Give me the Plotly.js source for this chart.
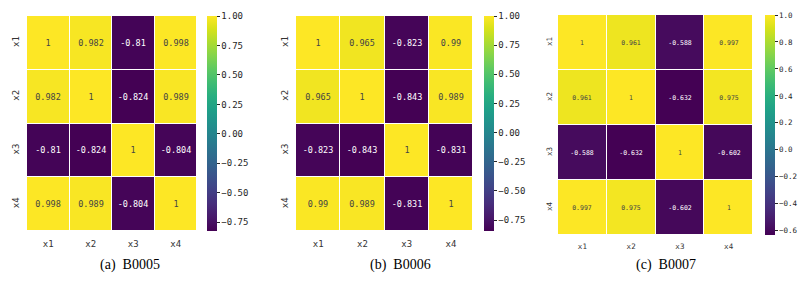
<!DOCTYPE html>
<html><head><meta charset="utf-8">
<script src="https://cdn.plot.ly/plotly-3.0.1.min.js"></script>
<style>html,body{margin:0;padding:0;background:#fff}#chart{width:807px;height:300px}</style>
</head><body><div id="chart"></div>
<script>
const labels = ['x1','x2','x3','x4'];
const captions = ['(a)  B0005','(b)  B0006','(c)  B0007'];
const zB0005 = [
  [1, 0.982, -0.81, 0.998],
  [0.982, 1, -0.824, 0.989],
  [-0.81, -0.824, 1, -0.804],
  [0.998, 0.989, -0.804, 1]
];
const zB0006 = [
  [1, 0.965, -0.823, 0.99],
  [0.965, 1, -0.843, 0.989],
  [-0.823, -0.843, 1, -0.831],
  [0.99, 0.989, -0.831, 1]
];
const zB0007 = [
  [1, 0.961, -0.588, 0.997],
  [0.961, 1, -0.632, 0.975],
  [-0.588, -0.632, 1, -0.602],
  [0.997, 0.975, -0.602, 1]
];
const W = 807, H = 300;
const panels = [
  {z: zB0005, x0: 27, x1: 197, y0: 16, y1: 231, cb: 207, dtick: 0.25, fmt: '.2f', fs: 8.5, tfs: 9, capx: 130, xs: 6, ys: 5},
  {z: zB0006, x0: 296, x1: 473, y0: 16, y1: 231, cb: 484, dtick: 0.25, fmt: '.2f', fs: 8.5, tfs: 9, capx: 400, xs: 6, ys: 5},
  {z: zB0007, x0: 558, x1: 753, y0: 15, y1: 235, cb: 765, dtick: 0.2, fmt: '.1f', fs: 6.5, tfs: 7.5, capx: 666, xs: 5, ys: 4}
];
const font = 'DejaVu Sans Mono, monospace';
const data = [], layout = {
  width: W, height: H, margin: {l:0, r:0, t:0, b:0},
  paper_bgcolor: '#fff', plot_bgcolor: '#fff', showlegend: false,
  annotations: []
};
panels.forEach((p, i) => {
  const n = i === 0 ? '' : String(i + 1);
  const flat = p.z.flat();
  const zmin = Math.min(...flat), zmax = Math.max(...flat);
  data.push({
    type: 'heatmap', z: p.z, x: labels, y: labels,
    xaxis: 'x' + n, yaxis: 'y' + n,
    colorscale: 'Viridis', zmin: zmin, zmax: zmax,
    xgap: 1, ygap: 1,
    texttemplate: '%{z:~.3g}',
    textfont: {family: font, size: p.fs},
    hoverinfo: 'skip',
    colorbar: {
      x: p.cb / W, xanchor: 'left', xpad: 0, ypad: 0,
      y: 1 - (p.y0 + p.y1) / 2 / H, yanchor: 'middle',
      len: p.y1 - p.y0, lenmode: 'pixels', thickness: 10,
      outlinewidth: 0, ticks: 'outside', ticklen: 3, tickwidth: 1, tickcolor: '#262626',
      dtick: p.dtick, tick0: 0, tickformat: p.fmt,
      tickfont: {family: font, size: p.tfs, color: '#262626'}
    }
  });
  layout['xaxis' + n] = {
    domain: [p.x0 / W, p.x1 / W], anchor: 'y' + n,
    showgrid: false, zeroline: false, showline: false, ticks: '', ticklabelstandoff: p.xs,
    tickfont: {family: font, size: p.tfs, color: '#333'}, fixedrange: true
  };
  layout['yaxis' + n] = {
    domain: [1 - p.y1 / H, 1 - p.y0 / H], anchor: 'x' + n,
    autorange: 'reversed', showgrid: false, zeroline: false, showline: false, ticks: '', ticklabelstandoff: p.ys,
    tickangle: -90, tickfont: {family: font, size: p.tfs, color: '#333'}, fixedrange: true
  };
  layout.annotations.push({
    xref: 'paper', yref: 'paper', x: p.capx / W, y: 1 - 265 / H,
    xanchor: 'center', yanchor: 'middle', showarrow: false,
    text: captions[i], font: {family: 'Liberation Serif, Times New Roman, serif', size: 14, color: '#000'}
  });
});
Plotly.newPlot('chart', data, layout, {staticPlot: true});
</script></body></html>
